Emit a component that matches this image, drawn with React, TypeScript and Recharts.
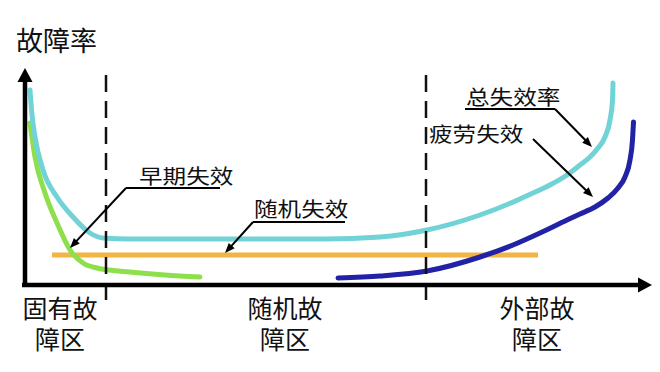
import React from "react";
import { ComposedChart, Line, XAxis, YAxis, ReferenceLine } from "recharts";

// time axis (t) and failure rate (r)
const totalT = [5, 7, 10, 18, 32, 48, 65, 78, 105, 225, 300, 355, 402, 455, 495, 508, 525, 542, 555, 565, 573, 580, 585, 587.5, 588];
const totalR = [195, 170, 148, 115, 88, 68, 52, 47, 46, 46, 46, 48, 55, 70, 86, 92, 100, 110, 120, 128, 137, 148, 165, 185, 202];

const earlyT = [5, 10, 20, 32, 45, 58, 72, 105, 140, 175];
const earlyR = [162, 128, 92, 62, 35, 22, 17, 13, 10, 8];

const randomT = [27, 513];
const randomR = [30, 30];

const wearT = [313, 355, 402, 455, 488, 515, 542, 555, 570, 583, 593, 600, 605, 607.5, 608.5];
const wearR = [7, 9, 14, 28, 40, 52, 65, 71, 78, 87, 97, 108, 125, 145, 163];

const zoneLabels = ["固有故\n障区", "随机故\n障区", "外部故\n障区"];

const zip = (ts: number[], rs: number[]) => ts.map((t, i) => ({ t, r: rs[i] }));

const FONT = '"Noto Sans CJK SC", "Noto Sans", sans-serif';

function arrowShape(w: number, len: number, half: number) {
    return (p: any) => {
        const { x1, y1, x2, y2 } = p;
        const dx = x2 - x1, dy = y2 - y1;
        const d = Math.hypot(dx, dy) || 1;
        const ux = dx / d, uy = dy / d;
        const bx = x2 - ux * len, by = y2 - uy * len;
        return (
            <g>
                <line x1={x1} y1={y1} x2={bx + ux} y2={by + uy} stroke="#000" strokeWidth={w} />
                <polygon points={`${x2},${y2} ${bx - uy * half},${by + ux * half} ${bx + uy * half},${by - ux * half}`} fill="#000" />
            </g>
        );
    };
}

function Lbl({ x, y, fs, sx = 1, text }: { x: number; y: number; fs: number; sx?: number; text: string }) {
    return (
        <div style={{ position: "absolute", left: x, top: y, fontSize: fs, lineHeight: 1, transform: `scaleX(${sx})`, transformOrigin: "left top", whiteSpace: "nowrap", color: "#111" }}>
            {text}
        </div>
    );
}

const axisArrow = arrowShape(4.5, 14, 7.5);
const noteArrow = arrowShape(2, 10, 4);

export default function App() {
    const zoneX = [60, 285, 537];
    return (
        <div style={{ position: "absolute", left: 0, top: 0, width: 660, height: 372, background: "#fff", fontFamily: FONT }}>
            <ComposedChart width={660} height={372} margin={{ top: 0, right: 0, bottom: 0, left: 0 }}>
                <XAxis type="number" dataKey="t" domain={[-25, 635]} allowDataOverflow hide />
                <YAxis type="number" dataKey="r" domain={[-87, 285]} allowDataOverflow hide />
                <Line data={zip(randomT, randomR)} dataKey="r" type="linear" stroke="#F2B544" strokeWidth={5} dot={false} activeDot={false} isAnimationActive={false} />
                <Line data={zip(earlyT, earlyR)} dataKey="r" type="monotone" stroke="#8EDF4C" strokeWidth={5} strokeLinecap="round" dot={false} activeDot={false} isAnimationActive={false} />
                <Line data={zip(totalT, totalR)} dataKey="r" type="monotone" stroke="#72D3D6" strokeWidth={5} strokeLinecap="round" dot={false} activeDot={false} isAnimationActive={false} />
                <Line data={zip(wearT, wearR)} dataKey="r" type="monotone" stroke="#2222A6" strokeWidth={5} strokeLinecap="round" dot={false} activeDot={false} isAnimationActive={false} />
                <ReferenceLine segment={[{ x: 81, y: 210 }, { x: 81, y: -17 }]} stroke="#111" strokeWidth={2.5} strokeDasharray="17 9" />
                <ReferenceLine segment={[{ x: 401, y: 210 }, { x: 401, y: -17 }]} stroke="#111" strokeWidth={2.5} strokeDasharray="17 9" />
                <ReferenceLine segment={[{ x: 0, y: -2 }, { x: 0, y: 217 }]} shape={axisArrow} />
                <ReferenceLine segment={[{ x: -3, y: 0 }, { x: 627, y: 0 }]} shape={axisArrow} />
                <ReferenceLine segment={[{ x: 101, y: 97 }, { x: 195, y: 97 }]} stroke="#000" strokeWidth={2} />
                <ReferenceLine segment={[{ x: 101, y: 97 }, { x: 45, y: 37 }]} shape={noteArrow} />
                <ReferenceLine segment={[{ x: 228, y: 63 }, { x: 320, y: 63 }]} stroke="#000" strokeWidth={2} />
                <ReferenceLine segment={[{ x: 228, y: 63 }, { x: 200, y: 32 }]} shape={noteArrow} />
                <ReferenceLine segment={[{ x: 440, y: 176 }, { x: 530, y: 176 }]} stroke="#000" strokeWidth={2} />
                <ReferenceLine segment={[{ x: 530, y: 176 }, { x: 567, y: 138 }]} shape={noteArrow} />
                <ReferenceLine segment={[{ x: 508, y: 146 }, { x: 568, y: 88 }]} shape={noteArrow} />
            </ComposedChart>
            <Lbl x={16} y={26} fs={27} text="故障率" />
            <Lbl x={139} y={165.5} fs={20} sx={1.18} text="早期失效" />
            <Lbl x={254} y={198.5} fs={20} sx={1.18} text="随机失效" />
            <Lbl x={466} y={86.5} fs={20} sx={1.18} text="总失效率" />
            <Lbl x={429} y={123.5} fs={20} sx={1.18} text="疲劳失效" />
            {zoneLabels.map((z, i) => (
                <div key={z} style={{ position: "absolute", left: zoneX[i] - 60, top: 292, width: 120, textAlign: "center", fontSize: 25, lineHeight: "31px", whiteSpace: "pre", color: "#111" }}>
                    {z}
                </div>
            ))}
        </div>
    );
}
